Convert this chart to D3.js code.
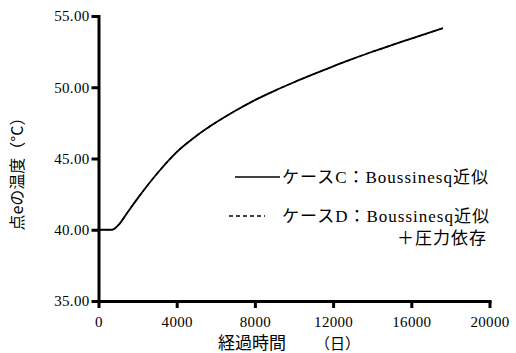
<!DOCTYPE html>
<html>
<head>
<meta charset="utf-8">
<script src="https://d3js.org/d3.v7.min.js"></script>
<style>
  body { margin: 0; background: #fff; }
  .axis path, .axis line { stroke: #000; stroke-width: 3px; }
  .axis text { font-family: "Liberation Serif", serif; font-size: 15px; fill: #000; letter-spacing: 0.3px; }
  .jp { font-family: "Noto Sans CJK JP", sans-serif; fill: #000; }
  .lg { font-family: "Liberation Serif", "Noto Sans CJK JP", serif; font-size: 17px; fill: #000; letter-spacing: 1px; }
</style>
</head>
<body>
<script>
// elapsed days / temperature at point e
const days  = [0, 700, 1000, 1500, 2000, 3000, 4000, 5000, 6000, 7000, 8000, 9000, 10000, 11000, 12000, 13000, 14000, 15000, 16000, 17620];
const caseC = [40.0, 40.0, 40.3, 41.25, 42.2, 43.95, 45.45, 46.58, 47.52, 48.35, 49.1, 49.75, 50.35, 50.92, 51.47, 51.99, 52.49, 52.96, 53.41, 54.15];
const caseD = [40.0, 40.0, 40.3, 41.25, 42.2, 43.95, 45.45, 46.58, 47.52, 48.35, 49.1, 49.75, 50.35, 50.92, 51.47, 51.99, 52.49, 52.96, 53.41, 54.15];
const xTicks = [0, 4000, 8000, 12000, 16000, 20000];
const yTicks = [35, 40, 45, 50, 55];
const legendC = "ケースC：Boussinesq近似";
const legendD = ["ケースD：Boussinesq近似", "＋圧力依存"];

const W = 516, H = 353;
const svg = d3.select("body").append("svg").attr("width", W).attr("height", H);

const x = d3.scaleLinear().domain([0, 20000]).range([98.5, 489.5]);
const y = d3.scaleLinear().domain([35, 55]).range([301, 16]);

// curves
const line = vals => d3.line().curve(d3.curveMonotoneX)
  .x((d, i) => x(days[i])).y(d => y(d))(vals);

svg.append("path").attr("d", line(caseD))
  .attr("fill", "none").attr("stroke", "#000").attr("stroke-width", 1.4)
  .attr("stroke-dasharray", "4,3");
svg.append("path").attr("d", line(caseC))
  .attr("fill", "none").attr("stroke", "#000").attr("stroke-width", 1.8);

// axes
svg.append("g").attr("class", "axis")
  .attr("transform", "translate(0," + y(35) + ")")
  .call(d3.axisBottom(x).tickValues(xTicks).tickFormat(d3.format("d"))
    .tickSize(7).tickSizeOuter(0).tickPadding(8));

svg.append("g").attr("class", "axis")
  .attr("transform", "translate(" + x(0) + ",0)")
  .call(d3.axisLeft(y).tickValues(yTicks).tickFormat(d3.format(".2f"))
    .tickSize(7).tickSizeOuter(0).tickPadding(2));

svg.selectAll(".axis .domain").attr("stroke-linecap", "square");

// axis titles
svg.append("text").attr("class", "jp").attr("x", 218).attr("y", 349)
  .attr("font-size", 17).text("経過時間");
svg.append("text").attr("class", "jp").attr("x", 315).attr("y", 349)
  .attr("font-size", 15).text("（日）");

svg.append("text").attr("class", "jp")
  .attr("transform", "translate(23,170) rotate(-90)")
  .attr("text-anchor", "middle").attr("font-size", 16)
  .text("点eの温度（°C）");

// legend
svg.append("line").attr("x1", 235).attr("x2", 280).attr("y1", 177).attr("y2", 177)
  .attr("stroke", "#000").attr("stroke-width", 1.3);
svg.append("text").attr("class", "lg").attr("x", 282).attr("y", 183).text(legendC);

svg.append("line").attr("x1", 229).attr("x2", 265).attr("y1", 216).attr("y2", 216)
  .attr("stroke", "#000").attr("stroke-width", 1.3).attr("stroke-dasharray", "4,3");
svg.append("text").attr("class", "lg").attr("x", 282).attr("y", 222).text(legendD[0]);
svg.append("text").attr("class", "lg").attr("x", 487).attr("y", 244)
  .attr("text-anchor", "end").text(legendD[1]);
</script>
</body>
</html>
